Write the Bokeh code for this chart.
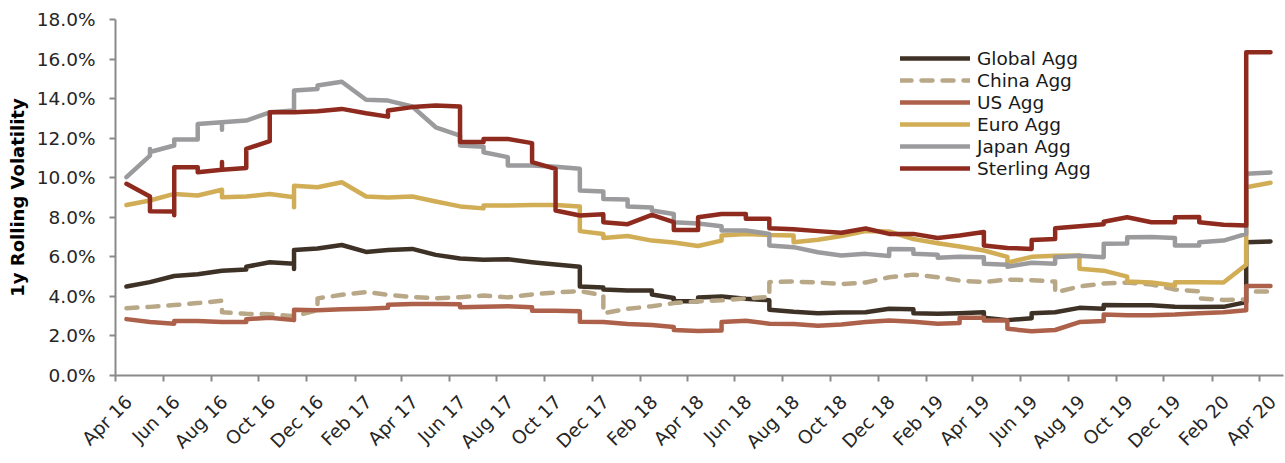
import datetime as dt
from bokeh.plotting import figure
from bokeh.models import (Legend, LegendItem, FixedTicker, PrintfTickFormatter, Range1d,
                          DatetimeTickFormatter, DatetimeAxis)
from bokeh.embed import file_html
from bokeh.resources import INLINE

# monthly observation dates (mid-month), Apr 2016 .. Apr 2020
dates = [dt.datetime(2016 + (3 + i) // 12, (3 + i) % 12 + 1, 15) for i in range(49)]

# x tick labels (every second month)
tick_labels = ["Apr 16", "Jun 16", "Aug 16", "Oct 16", "Dec 16", "Feb 17", "Apr 17", "Jun 17",
               "Aug 17", "Oct 17", "Dec 17", "Feb 18", "Apr 18", "Jun 18", "Aug 18", "Oct 18",
               "Dec 18", "Feb 19", "Apr 19", "Jun 19", "Aug 19", "Oct 19", "Dec 19", "Feb 20", "Apr 20"]
tick_dates = [dt.datetime(2016 + (3 + 2 * i) // 12, (3 + 2 * i) % 12 + 1, 1) for i in range(25)]
y_ticks = [0, 2, 4, 6, 8, 10, 12, 14, 16, 18]

# 1y rolling volatility (%); a tuple = values passed through at the same date (jump)
global_agg = [4.5, 4.72, 5.03, 5.12, 5.3, (5.36, 5.5), 5.73, (5.65, 5.38, 6.35), 6.42, 6.6,
              6.25, 6.35, 6.4, 6.1, 5.92, 5.85, 5.88, 5.73, 5.61, (5.5, 4.5),
              (4.45, 4.35), 4.3, (4.3, 4.1), (3.92, 3.75), (3.75, 3.95), 4.0, 3.88, (3.8, 3.32), 3.22, 3.15,
              3.18, 3.2, 3.37, (3.35, 3.15), 3.12, 3.15, (3.2, 2.92), 2.8, (2.9, 3.15), 3.2,
              3.42, (3.38, 3.57), 3.55, 3.55, 3.48, 3.46, 3.47, (3.71, 6.74), 6.78]
china_agg = [3.4, 3.47, 3.56, 3.66, (3.78, 3.2), 3.12, 3.1, 3.0, (3.3, 3.9), 4.08,
             4.22, 4.08, 3.97, 3.9, 3.96, 4.04, 3.95, 4.1, 4.2, 4.27,
             (4.05, 3.15), 3.37, 3.5, 3.66, 3.75, 3.8, 3.9, (3.97, 4.72), 4.75, 4.7,
             4.62, 4.7, 4.97, 5.1, 4.97, 4.8, 4.72, 4.85, 4.82, (4.75, 4.2),
             4.5, 4.65, 4.7, 4.6, 4.35, (4.25, 3.9), 3.82, (3.85, 4.25), 4.25]
us_agg = [2.85, 2.7, (2.62, 2.75), 2.75, 2.7, (2.7, 2.85), 2.92, (2.8, 3.32), 3.3, 3.35,
          3.38, (3.42, 3.58), 3.62, 3.62, (3.6, 3.45), 3.47, 3.5, (3.45, 3.28), 3.28, (3.25, 2.72),
          2.7, 2.6, 2.55, (2.45, 2.3), 2.25, (2.28, 2.7), 2.77, 2.62, 2.6, 2.52,
          2.58, 2.7, 2.78, 2.72, 2.62, (2.65, 2.92), (2.92, 2.78), (2.78, 2.36), 2.24, 2.3,
          2.7, (2.75, 3.08), 3.05, 3.05, 3.08, 3.15, 3.2, (3.3, 4.52), 4.52]
euro_agg = [8.62, 8.85, 9.18, 9.1, (9.39, 9.01), 9.05, 9.18, (9.01, 8.51, 9.6), 9.52, 9.77,
            9.05, 9.0, 9.05, 8.8, 8.55, (8.45, 8.6), 8.6, 8.62, 8.62, (8.55, 7.3),
            (7.16, 6.95), 7.05, 6.82, 6.72, 6.55, (6.82, 7.08), 7.16, 7.1, (7.08, 6.74), 6.86,
            7.05, 7.3, 7.28, 6.9, 6.69, 6.52, 6.32, (6.0, 5.7), 6.0, 6.05,
            (6.07, 5.4), 5.3, (5.0, 4.75), 4.7, (4.55, 4.72), 4.72, 4.7, (5.6, 9.52), 9.75]
japan_agg = [10.03, (11.12, 11.45, 11.3), (11.63, 11.93), (11.93, 12.72), (12.81, 12.42, 12.81), 12.89, 13.31, (13.4, 14.41), (14.49, 14.66), 14.85,
             13.94, 13.9, 13.6, 12.55, (12.13, 11.63), (11.56, 11.29), (11.04, 10.62), 10.62, 10.55, (10.45, 9.35),
             (9.3, 8.93), (8.9, 8.54), (8.5, 8.34), (8.17, 7.75), 7.68, (7.55, 7.33), 7.33, (7.16, 6.57), 6.49, 6.23,
             6.07, 6.15, (6.04, 6.4), (6.38, 6.15), (6.1, 5.95), 6.0, (5.98, 5.65), (5.6, 5.5), 5.7, (5.65, 5.98),
             6.05, (5.98, 6.66), (6.68, 6.99), 7.0, (6.95, 6.57), (6.57, 6.74), 6.82, (7.16, 10.2), 10.27]
sterling_agg = [9.69, (9.05, 8.31), (8.29, 8.1, 10.53), (10.53, 10.28), (10.4, 10.8, 10.4), (10.49, 11.46), (11.85, 13.31), 13.31, 13.36, 13.48,
                13.26, (13.09, 13.4), 13.57, 13.65, (13.6, 11.8), (11.8, 11.96), 11.96, (11.75, 10.79), (10.45, 8.34), 8.09,
                (8.15, 7.75), 7.65, 8.12, (7.75, 7.36), (7.36, 8.0), 8.17, (8.17, 7.92), (7.92, 7.45), 7.4, 7.3,
                7.22, 7.43, 7.16, 7.16, 6.95, 7.08, (7.26, 6.57), 6.45, (6.4, 6.85), (6.9, 7.45),
                7.55, (7.65, 7.77), 8.0, 7.75, (7.75, 8.0), (8.02, 7.75), 7.62, (7.58, 16.35), 16.35]

names = ["Global Agg", "China Agg", "US Agg", "Euro Agg", "Japan Agg", "Sterling Agg"]
colors = ["#3e3126", "#b9a888", "#ad614a", "#d1ad55", "#9b9b9e", "#8f2a1e"]
series = [global_agg, china_agg, us_agg, euro_agg, japan_agg, sterling_agg]


def expand(vals):
    xs, ys = [], []
    for d, v in zip(dates, vals):
        for y in (v if isinstance(v, tuple) else (v,)):
            xs.append(d)
            ys.append(y)
    return xs, ys


FONT = "DejaVu Sans"
AXIS_COL = "#8a8a8a"

p = figure(width=1284, height=462, x_axis_type="datetime", output_backend="svg", toolbar_location=None,
           x_range=Range1d(dt.datetime(2016, 4, 1), dt.datetime(2020, 5, 1, 15)), y_range=Range1d(0, 18),
           min_border_left=115, min_border_right=1, min_border_top=19, min_border_bottom=87)
p.outline_line_color = None
p.xgrid.grid_line_color = None
p.ygrid.grid_line_color = None

items = []
for name, col, vals in zip(names, colors, series):
    xs, ys = expand(vals)
    kw = dict(line_dash="11 10") if name == "China Agg" else {}
    r = p.line(xs, ys, line_color=col, line_width=4.5, line_join="round", line_cap="round", **kw)
    items.append(LegendItem(label=name, renderers=[r]))

epoch = dt.datetime(1970, 1, 1)
tick_ms = [(d - epoch).total_seconds() * 1000 for d in tick_dates]

# main x axis: tick marks only
xa = p.xaxis[0]
xa.ticker = FixedTicker(ticks=tick_ms)
xa.major_label_overrides = {t: "" for t in tick_ms}
xa.major_label_text_font_size = "0px"
xa.major_label_standoff = 0

# second axis carrying the rotated month labels, nudged right like the original
label_shift_ms = 17 * 24 * 3600 * 1000
label_ms = [t + label_shift_ms for t in tick_ms]
xl = DatetimeAxis(ticker=FixedTicker(ticks=label_ms),
                  formatter=DatetimeTickFormatter(months="%b %y", days="%b %y"),
                  major_label_overrides={t: lab for t, lab in zip(label_ms, tick_labels)},
                  major_label_orientation=0.785398, major_label_standoff=17,
                  axis_line_color=None, major_tick_line_color=None, minor_tick_line_color=None,
                  major_tick_in=0, major_tick_out=0,
                  major_label_text_font=FONT, major_label_text_font_size="18.5px",
                  major_label_text_color="#262626")
p.add_layout(xl, "below")

p.yaxis.ticker = FixedTicker(ticks=y_ticks)
p.yaxis.formatter = PrintfTickFormatter(format="%.1f%%")
p.yaxis.axis_label = "1y Rolling Volatility"
p.yaxis.axis_label_text_font = FONT
p.yaxis.axis_label_text_font_style = "bold"
p.yaxis.axis_label_text_font_size = "18px"
p.yaxis.axis_label_text_color = "#000000"
p.yaxis.axis_label_standoff = 6
p.yaxis.major_label_standoff = 14
p.yaxis.major_label_text_font = FONT
p.yaxis.major_label_text_font_size = "18.5px"
p.yaxis.major_label_text_color = "#262626"

for ax in (xa, p.yaxis[0]):
    ax.axis_line_color = AXIS_COL
    ax.axis_line_width = 2
    ax.major_tick_line_color = AXIS_COL
    ax.major_tick_line_width = 2
    ax.major_tick_in = 0
    ax.major_tick_out = 6
    ax.minor_tick_line_color = None

legend = Legend(items=items, location=(785, 196), padding=0, margin=0, spacing=0,
                glyph_width=70, glyph_height=22, label_height=22, label_standoff=7,
                border_line_alpha=0, background_fill_alpha=0,
                label_text_font=FONT, label_text_font_size="18.5px", label_text_color="#1a1a1a")
p.add_layout(legend)

open("out.html", "w").write(file_html(p, INLINE))
